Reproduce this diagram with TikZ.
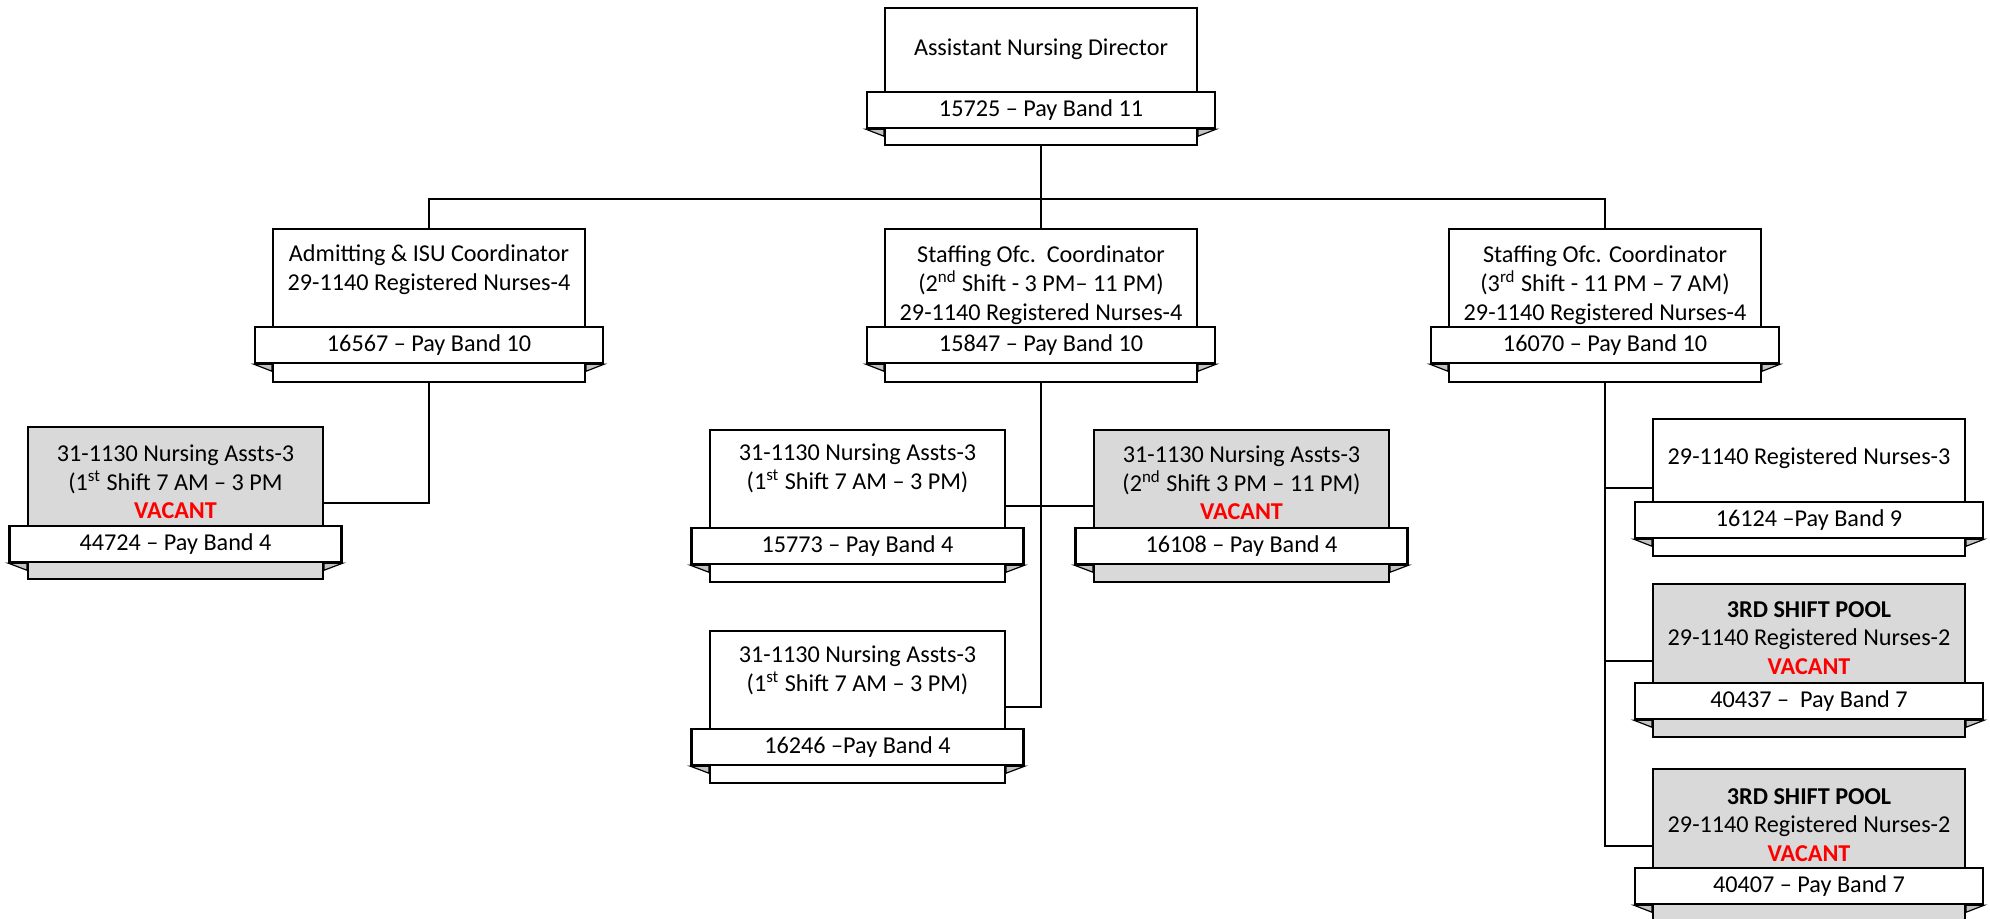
\documentclass[tikz,border=0pt]{standalone}
\usepackage{fontspec}
\setmainfont{Carlito}
\usepackage{tikz}
\usetikzlibrary{positioning}
\definecolor{vacgray}{RGB}{217, 217, 217}
\definecolor{foldgray}{RGB}{195, 195, 195}
\definecolor{vacred}{RGB}{255, 0, 0}
\newcommand{\vacant}{\textcolor{vacred}{\textbf{VACANT}}}

\begin{document}
\begin{tikzpicture}[x=0.5pt,y=-0.5pt,line width=1.1pt,
    font=\fontsize{12.1pt}{14.35pt}\selectfont,
    body/.style={draw,fill=white,anchor=north,inner sep=0pt,
                 minimum width=156pt,minimum height=76.5pt},
    shortbody/.style={body,minimum height=68.5pt},
    smallbody/.style={body,minimum width=147.5pt,minimum height=76pt},
    vac/.style={fill=vacgray},
    band/.style={draw,fill=white,inner sep=0pt,minimum width=174pt,minimum height=18pt},
    smallband/.style={band,minimum width=166pt},
    txt/.style={align=center,inner sep=0pt},
    fold/.style={fill=foldgray,line width=0.6pt}
]
\clip (0,0) rectangle (1990,918);
% director
\node[shortbody] (dir) at (1041,7) {};
\node[band, below=42pt of dir.north] (dir-b) {15725 -- Pay Band 11};
\node[txt] (dir-t) at ([yshift=-21pt]dir.north) {Assistant Nursing Director};
% coordinators
\node[body] (adm) at (429,228) {};
\node[band, below=49pt of adm.north] (adm-b) {16567 -- Pay Band 10};
\node[txt] (adm-t) at ([yshift=-21pt]adm.north) {Admitting \& ISU Coordinator\\29-1140 Registered Nurses-4};
\node[body] (stf2) at (1041,228) {};
\node[band, below=49pt of stf2.north] (stf2-b) {15847 -- Pay Band 10};
\node[txt] (stf2-t) at ([yshift=-28.5pt]stf2.north) {Staffing Ofc.\ \ Coordinator\\(2\textsuperscript{nd} Shift - 3 PM-- 11 PM)\\29-1140 Registered Nurses-4};
\node[body] (stf3) at (1605,228) {};
\node[band, below=49pt of stf3.north] (stf3-b) {16070 -- Pay Band 10};
\node[txt] (stf3-t) at ([yshift=-28.5pt]stf3.north) {Staffing Ofc. Coordinator\\(3\textsuperscript{rd} Shift - 11 PM -- 7 AM)\\29-1140 Registered Nurses-4};
% nursing assistants
\node[smallbody,vac] (nav1) at (175.5,426) {};
\node[smallband, below=49.5pt of nav1.north] (nav1-b) {44724 -- Pay Band 4};
\node[txt] (nav1-t) at ([yshift=-28pt]nav1.north) {31-1130 Nursing Assts-3\\(1\textsuperscript{st} Shift 7 AM -- 3 PM\\\vacant};
\node[smallbody] (na1) at (857.5,429) {};
\node[smallband, below=49pt of na1.north] (na1-b) {15773 -- Pay Band 4};
\node[txt] (na1-t) at ([yshift=-19.5pt]na1.north) {31-1130 Nursing Assts-3\\(1\textsuperscript{st} Shift 7 AM -- 3 PM)};
\node[smallbody,vac] (na2v) at (1241.5,429) {};
\node[smallband, below=49pt of na2v.north] (na2v-b) {16108 -- Pay Band 4};
\node[txt] (na2v-t) at ([yshift=-27pt]na2v.north) {31-1130 Nursing Assts-3\\(2\textsuperscript{nd} Shift 3 PM -- 11 PM)\\\vacant};
\node[smallbody] (na1b) at (857.5,630) {};
\node[smallband, below=49pt of na1b.north] (na1b-b) {16246 --Pay Band 4};
\node[txt] (na1b-t) at ([yshift=-20pt]na1b.north) {31-1130 Nursing Assts-3\\(1\textsuperscript{st} Shift 7 AM -- 3 PM)};
% registered nurses
\node[shortbody] (rn3) at (1809,418) {};
\node[band, below=41.5pt of rn3.north] (rn3-b) {16124 --Pay Band 9};
\node[txt] (rn3-t) at ([yshift=-20pt]rn3.north) {29-1140 Registered Nurses-3};
\node[body,vac] (pool1) at (1809,583) {};
\node[band, below=49.5pt of pool1.north] (pool1-b) {40437 --\ \ Pay Band 7};
\node[txt] (pool1-t) at ([yshift=-27.5pt]pool1.north) {\textbf{3RD SHIFT POOL}\\29-1140 Registered Nurses-2\\\vacant};
\node[body,vac] (pool2) at (1809,768) {};
\node[band, below=49.5pt of pool2.north] (pool2-b) {40407 -- Pay Band 7};
\node[txt] (pool2-t) at ([yshift=-28.5pt]pool2.north) {\textbf{3RD SHIFT POOL}\\29-1140 Registered Nurses-2\\\vacant};
% ribbon folds
\foreach \n in {dir,adm,stf2,stf3,nav1,na1,na2v,na1b,rn3,pool1,pool2}{
  \draw[fold] (\n-b.south west) -- (\n-b.south west -| \n.west) -- ++(0,-3.5pt) -- cycle;
  \draw[fold] (\n-b.south east) -- (\n-b.south east -| \n.east) -- ++(0,-3.5pt) -- cycle;
}
% connectors
\coordinate (bus) at (1041,199);
\draw (dir.south) -- (stf2.north);
\draw (adm.north) |- (bus) -| (stf3.north);
\draw (adm.south) |- (nav1.east);
\draw (stf2.south) |- (na1b.east);
\draw (na1.east) -- (na2v.west);
\draw (stf3.south) |- (pool2.west);
\draw (rn3.west) -- (rn3.west -| stf3.south);
\draw (pool1.west) -- (pool1.west -| stf3.south);
\end{tikzpicture}
\end{document}
